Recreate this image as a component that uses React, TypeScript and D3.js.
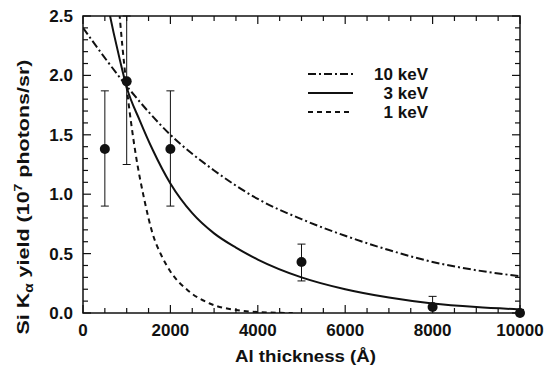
import * as d3 from 'd3';

// Measured points (Al thickness in Å, yield in 1e7 photons/sr)
const measX = [500, 1000, 2000, 5000, 8000, 10000];
const measY = [1.38, 1.95, 1.38, 0.43, 0.05, 0.0];
const measLo = [0.9, 1.25, 0.9, 0.27, -0.04, -0.03];
const measHi = [1.87, 2.5, 1.87, 0.58, 0.14, 0.03];

// Model curves
const kev10X = [0, 1000, 2000, 3000, 4000, 5000, 6000, 7000, 8000, 9000, 10000];
const kev10Y = [2.4, 1.91, 1.5, 1.2, 0.96, 0.79, 0.65, 0.53, 0.43, 0.36, 0.31];

const kev3X = [550, 700, 850, 1000, 1300, 1600, 2000, 2500, 3000, 3500, 4000, 5000, 6000, 7000, 8000, 9000, 10000];
const kev3Y = [2.62, 2.36, 2.12, 1.9, 1.62, 1.37, 1.09, 0.84, 0.67, 0.55, 0.45, 0.3, 0.2, 0.13, 0.08, 0.05, 0.03];

const kev1X = [800, 900, 1000, 1200, 1400, 1600, 1800, 2000, 2400, 2900, 3500, 4000, 4800];
const kev1Y = [2.67, 2.25, 1.9, 1.35, 0.96, 0.66, 0.48, 0.35, 0.19, 0.08, 0.025, 0.008, 0];

const xMajor = [0, 2000, 4000, 6000, 8000, 10000];
const yMajor = [0, 0.5, 1.0, 1.5, 2.0, 2.5];

const legendItems = [
  { label: '10 keV', dash: '8,3,2,3' },
  { label: '3 keV', dash: '' },
  { label: '1 keV', dash: '5,4' },
];

const W = 549;
const H = 369;
const FONT = '"Liberation Sans", Arial, Helvetica, sans-serif';

export default function App() {
  const x = d3.scaleLinear().domain([0, 10000]).range([83, 520]);
  const y = d3.scaleLinear().domain([0, 2.5]).range([313, 16]);

  const line = d3.line<[number, number]>()
    .x((d) => x(d[0]))
    .y((d) => y(d[1]))
    .curve(d3.curveMonotoneX);

  const curves = [
    { xs: kev10X, ys: kev10Y, dash: '8,3,2,3' },
    { xs: kev3X, ys: kev3Y, dash: '' },
    { xs: kev1X, ys: kev1Y, dash: '5,4' },
  ];

  const xMinor = d3.range(0, 10001, 500);
  const yMinor = d3.range(0, 26).map((i) => i / 10);

  const [x0, x1] = x.range();
  const [y0, y1] = y.range();

  return (
    <svg width={W} height={H} style={{ position: 'absolute', left: 0, top: 0, background: '#fff' }}>
      <defs>
        <clipPath id="plot">
          <rect x={x0} y={y1} width={x1 - x0} height={y0 - y1} />
        </clipPath>
      </defs>

      {/* ticks, inward on all four sides */}
      <g stroke="#111" strokeWidth={1.2}>
        {xMinor.map((v) => {
          const len = v % 2000 === 0 ? 8 : 5;
          return (
            <g key={'xt' + v}>
              <line x1={x(v)} x2={x(v)} y1={y0} y2={y0 - len} />
              <line x1={x(v)} x2={x(v)} y1={y1} y2={y1 + len} />
            </g>
          );
        })}
        {yMinor.map((v, i) => {
          const len = i % 5 === 0 ? 8 : 5;
          return (
            <g key={'yt' + i}>
              <line x1={x0} x2={x0 + len} y1={y(v)} y2={y(v)} />
              <line x1={x1} x2={x1 - len} y1={y(v)} y2={y(v)} />
            </g>
          );
        })}
      </g>

      <rect x={x0} y={y1} width={x1 - x0} height={y0 - y1} fill="none" stroke="#111" strokeWidth={1.5} />

      {/* curves */}
      <g clipPath="url(#plot)" fill="none" stroke="#111" strokeWidth={2}>
        {curves.map((c, i) => (
          <path
            key={i}
            d={line(c.xs.map((v, j) => [v, c.ys[j]] as [number, number])) ?? ''}
            strokeDasharray={c.dash || undefined}
          />
        ))}
      </g>

      {/* measured points with error bars */}
      <g stroke="#111" strokeWidth={1}>
        {measX.map((v, i) => {
          const cx = x(v);
          const lo = y(Math.max(measLo[i], 0));
          const hi = y(Math.min(measHi[i], 2.5));
          return (
            <g key={'m' + i}>
              <line x1={cx} x2={cx} y1={lo} y2={hi} />
              <line x1={cx - 4} x2={cx + 4} y1={hi} y2={hi} />
              {measLo[i] >= 0 && <line x1={cx - 4} x2={cx + 4} y1={lo} y2={lo} />}
              <circle cx={cx} cy={y(measY[i])} r={5} fill="#111" stroke="none" />
            </g>
          );
        })}
      </g>

      {/* tick labels */}
      <g fontFamily={FONT} fontWeight="bold" fontSize={17} fill="#111">
        {xMajor.map((v) => (
          <text key={'xl' + v} x={x(v)} y={336} textAnchor="middle">{v}</text>
        ))}
        {yMajor.map((v) => (
          <text key={'yl' + v} x={73} y={y(v) + 6} textAnchor="end">{v.toFixed(1)}</text>
        ))}
      </g>

      {/* axis titles */}
      <text
        x={(x0 + x1) / 2 + 4}
        y={362}
        textAnchor="middle"
        fontFamily={FONT}
        fontWeight="bold"
        fontSize={17}
        fill="#111"
        textLength={141}
        lengthAdjust="spacingAndGlyphs"
      >
        Al thickness (Å)
      </text>
      <text
        transform="translate(29,197) rotate(-90)"
        textAnchor="middle"
        fontFamily={FONT}
        fontWeight="bold"
        fontSize={17}
        fill="#111"
        textLength={275}
        lengthAdjust="spacingAndGlyphs"
      >
        Si K<tspan fontSize={12} dy={4}>α</tspan>
        <tspan dy={-4}> yield (10</tspan>
        <tspan fontSize={11} dy={-7}>7</tspan>
        <tspan dy={7}> photons/sr)</tspan>
      </text>

      {/* legend */}
      <g fontFamily={FONT} fontWeight="bold" fontSize={17} fill="#111">
        {legendItems.map((it, i) => {
          const ly = 74 + i * 19;
          return (
            <g key={it.label}>
              <line x1={308} x2={353} y1={ly} y2={ly} stroke="#111" strokeWidth={2} strokeDasharray={it.dash || undefined} />
              <text x={428} y={ly + 6} textAnchor="end">{it.label}</text>
            </g>
          );
        })}
      </g>
    </svg>
  );
}
